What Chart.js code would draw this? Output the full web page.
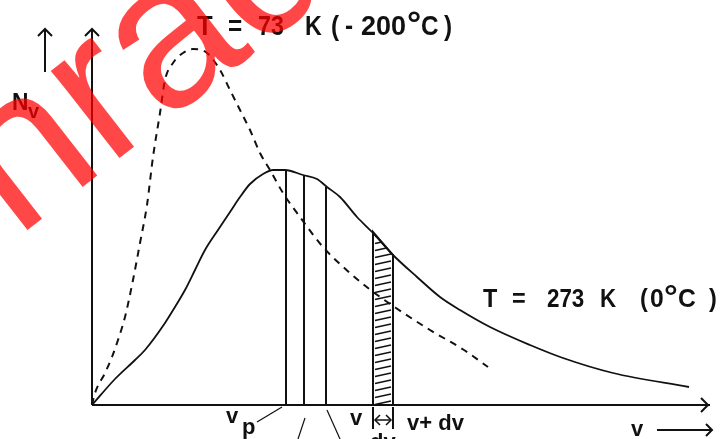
<!DOCTYPE html>
<html>
<head>
<meta charset="utf-8">
<script src="https://cdn.jsdelivr.net/npm/chart.js@4.4.1/dist/chart.umd.min.js"></script>
<style>
  html, body { margin: 0; padding: 0; background: #fff; overflow: hidden; }
  canvas { display: block; }
</style>
</head>
<body>
<canvas id="c" width="720" height="439"></canvas>
<script>
// Maxwell speed distribution, relative units (v along x, N_v along y)
const speeds273 = [0, 23, 43, 53, 73, 83, 93, 103, 113, 126, 138, 148, 158, 171, 181, 193, 211, 225, 235, 248, 265, 280, 301, 325, 348, 368, 398, 438, 471, 521, 597];
const counts273 = [0, 26, 45, 55, 82, 98, 115, 135, 155, 175, 193, 208, 221, 231, 235, 235, 230, 226, 218, 208, 188, 173, 150, 128, 108, 95, 78, 60, 47, 32, 18];

const speeds73 = [0, 3, 13, 20, 25, 33, 41, 48, 55, 61, 68, 73, 81, 91, 101, 115, 128, 138, 148, 158, 168, 178, 191, 208, 231, 258, 276, 304, 338, 372, 396];
const counts73 = [0, 12, 32, 48, 62, 88, 125, 162, 200, 248, 292, 325, 342, 352, 356, 352, 335, 315, 295, 275, 252, 235, 212, 188, 158, 132, 117, 97, 75, 55, 38];

// characteristic speeds (v_p and the two following ordinates) and their heights on the 273 K curve
const markerSpeeds = [194, 212, 234];
const markerHeights = [235, 230, 218];

// the shaded strip between v and v + dv
const stripSpeeds = [281, 301];
const stripHeights = [173, 150];

const label73 = 'T = 73 K (-200°C)';
const label273 = 'T = 273 K (0°C)';

const INK = '#111';

function pts(xs, ys) { return xs.map((x, i) => ({ x, y: ys[i] })); }

// hatch pattern for the strip: short, slightly rising strokes
function hatchPattern(x0) {
  const c = document.createElement('canvas');
  c.width = 20; c.height = 7;
  const g = c.getContext('2d');
  g.strokeStyle = INK; g.lineWidth = 1.5;
  g.beginPath(); g.moveTo(2, 5.5); g.lineTo(18, 2); g.stroke();
  const p = g.createPattern(c, 'repeat');
  p.setTransform(new DOMMatrix().translate(x0, 0));
  return p;
}

const datasets = [
  { data: pts(speeds273, counts273), borderColor: INK, borderWidth: 1.8, cubicInterpolationMode: 'monotone', fill: false },
  { data: pts(speeds73, counts73), borderColor: INK, borderWidth: 2, borderDash: [7, 6], cubicInterpolationMode: 'monotone', fill: false }
];
markerSpeeds.forEach((v, i) => {
  datasets.push({ data: [{ x: v, y: 0 }, { x: v, y: markerHeights[i] }], borderColor: INK, borderWidth: 2, fill: false, tension: 0 });
});
const stripDataset = {
  data: [{ x: stripSpeeds[0], y: 0 }, { x: stripSpeeds[0], y: stripHeights[0] }, { x: stripSpeeds[1], y: stripHeights[1] }, { x: stripSpeeds[1], y: 0 }],
  borderColor: INK, borderWidth: 2, tension: 0, fill: 'origin', backgroundColor: 'transparent'
};
datasets.push(stripDataset);

function seg(ctx, x1, y1, x2, y2) { ctx.beginPath(); ctx.moveTo(x1, y1); ctx.lineTo(x2, y2); ctx.stroke(); }
function headUp(ctx, x, y, s) { ctx.beginPath(); ctx.moveTo(x - s, y + s); ctx.lineTo(x, y); ctx.lineTo(x + s, y + s); ctx.stroke(); }
function headRight(ctx, x, y, s) { ctx.beginPath(); ctx.moveTo(x - s, y - s); ctx.lineTo(x, y); ctx.lineTo(x - s, y + s); ctx.stroke(); }
function headLeft(ctx, x, y, s) { ctx.beginPath(); ctx.moveTo(x + s, y - s); ctx.lineTo(x, y); ctx.lineTo(x + s, y + s); ctx.stroke(); }

function txt(ctx, s, x, y, size, hs) {
  ctx.save();
  ctx.font = 'bold ' + size + 'px "Liberation Sans", Arial, sans-serif';
  ctx.translate(x, y);
  ctx.scale(hs || 1, 1);
  ctx.fillText(s, 0, 0);
  ctx.restore();
}

// draws a label glyph group by glyph group at the given x offsets and widths
function spaced(ctx, text, xs, hss, y, size) {
  const parts = text.replace(/\s+/g, '').match(/\d+|./g);
  parts.forEach((p, i) => {
    if (p === '°') txt(ctx, p, xs[i], y, size * 1.2, 1.1);
    else txt(ctx, p, xs[i], y, size, hss[i]);
  });
}

const decor = {
  id: 'decor',
  beforeDatasetsDraw(chart) {
    // anchor the hatch to the strip's left edge
    const x0 = chart.scales.x.getPixelForValue(stripSpeeds[0]);
    stripDataset.backgroundColor = hatchPattern(x0);
    chart.getDatasetMeta(chart.data.datasets.length - 1).dataset.options.backgroundColor = stripDataset.backgroundColor;
  },
  afterDatasetsDraw(chart) {
    const ctx = chart.ctx;
    const xs = chart.scales.x, ys = chart.scales.y;
    const ox = xs.getPixelForValue(0), oy = ys.getPixelForValue(0);
    ctx.save();
    ctx.strokeStyle = INK; ctx.fillStyle = INK; ctx.lineWidth = 2;

    // axes with open arrow heads
    seg(ctx, ox, oy, xs.right - 2, oy); headRight(ctx, xs.right - 4, oy, 7);
    seg(ctx, ox, oy, ox, 29); headUp(ctx, ox, 29, 7);
    // N_v direction arrow
    seg(ctx, 45, 72, 45, 29); headUp(ctx, 45, 29, 7);

    // v -> arrow
    seg(ctx, 657, 430, 712, 430); headRight(ctx, 712, 430, 6);

    // dv bracket
    const a = xs.getPixelForValue(stripSpeeds[0]), b = xs.getPixelForValue(stripSpeeds[1]);
    ctx.lineWidth = 2;
    seg(ctx, a, oy + 2, a, oy + 24);
    seg(ctx, b, oy + 2, b, oy + 24);
    ctx.lineWidth = 1.5;
    seg(ctx, a + 2, oy + 15, b - 2, oy + 15);
    headLeft(ctx, a + 2, oy + 15, 5); headRight(ctx, b - 2, oy + 15, 5);

    // leader lines to the speed names
    ctx.lineWidth = 1.2;
    seg(ctx, 257, 422, 282, 407);
    seg(ctx, 298, 439, 305, 418);
    seg(ctx, 327, 410, 340, 439);

    // labels
    ctx.textBaseline = 'alphabetic';
    spaced(ctx, label73, [197, 228, 258, 305, 331, 345, 361, 407, 421, 444],
      [0.95, 0.9, 0.86, 0.86, 0.9, 0.9, 1.0, 1, 0.9, 0.9], 35, 27);
    spaced(ctx, label273, [483, 512, 547, 600, 640, 650, 664, 678, 709],
      [0.9, 0.9, 0.86, 0.86, 0.9, 0.95, 1, 0.95, 0.9], 307, 26);
    txt(ctx, 'N', 12, 110, 24, 0.95);
    txt(ctx, 'v', 28, 118, 20, 1);
    txt(ctx, 'v', 226, 423, 22, 1);
    txt(ctx, 'p', 242, 434, 22, 1);
    txt(ctx, 'v', 350, 425, 22, 1);
    txt(ctx, 'dv', 370, 449, 22, 1);
    txt(ctx, 'v+ dv', 407, 430, 22, 1);
    txt(ctx, 'v', 631, 436, 22, 1);
    ctx.restore();
  },
  afterDraw(chart) {
    // translucent red stamp across the upper left
    const ctx = chart.ctx;
    ctx.save();
    ctx.translate(16, 239);
    ctx.rotate(-38 * Math.PI / 180);
    ctx.font = '210px "Liberation Sans", Arial, sans-serif';
    ctx.fillStyle = 'rgba(255, 0, 0, 0.72)';
    const w = ctx.measureText('o').width;
    ctx.fillText('onrad', -w, 0);
    ctx.restore();
  }
};

new Chart(document.getElementById('c'), {
  type: 'line',
  data: { datasets },
  options: {
    responsive: false,
    animation: false,
    layout: { padding: { left: 92, right: 8, top: 30, bottom: 34 } },
    elements: { point: { radius: 0 } },
    scales: {
      x: { type: 'linear', min: 0, max: 620, display: false },
      y: { type: 'linear', min: 0, max: 375, display: false }
    },
    plugins: { legend: { display: false }, tooltip: { enabled: false } }
  },
  plugins: [decor]
});
</script>
</body>
</html>
